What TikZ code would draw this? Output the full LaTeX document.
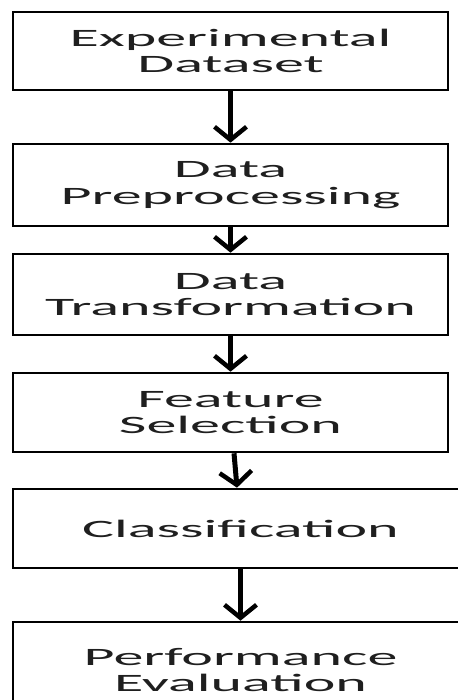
\documentclass[tikz,border=0pt]{standalone}
\usepackage{fontspec}
\setmainfont{Carlito}[FakeStretch=2.4]
\usetikzlibrary{arrows.meta}
\begin{document}
\begin{tikzpicture}[x=1pt,y=-1pt,
  stage/.style={draw=black,line width=2.6pt,fill=white,inner sep=0pt,
    font=\fontsize{25}{26.5}\selectfont,align=center,text=black!88},
  flow/.style={line width=5pt,-{Straight Barb[length=13pt,width=32pt,line width=4.5pt]}}]
\useasboundingbox (0,0) rectangle (457,700);
\node[stage,minimum width=435pt,minimum height=78pt] (b1) at (230.5,51) {Experimental\\Dataset};
\node[stage,minimum width=435pt,minimum height=82pt] (b2) at (230.5,185) {Data\\Preprocessing};
\node[stage,minimum width=435pt,minimum height=81pt] (b3) at (230.5,294.5) {Data\\Transformation};
\node[stage,minimum width=435pt,minimum height=79pt] (b4) at (230.5,412.5) {Feature\\Selection};
\node[stage,minimum width=455pt,minimum height=79pt] (b5) at (240.5,528.5) {Classification};
\node[stage,minimum width=455pt,minimum height=96pt] (b6) at (240.5,670) {Performance\\Evaluation};
\draw[flow] (b1) -- (b2);
\draw[flow] (b2) -- (b3);
\draw[flow] (b3) -- (b4);
\draw[flow] (b4) -- (b5);
\draw[flow] (b5) -- (b6);
\end{tikzpicture}
\end{document}
